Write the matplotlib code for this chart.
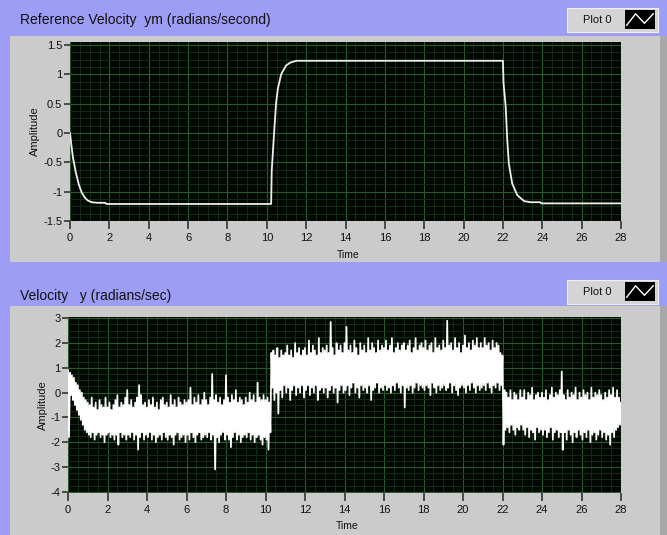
import matplotlib.pyplot as plt
import numpy as np
from matplotlib.patches import Rectangle

# reference velocity ym, breakpoints of the trace
ref_t = [0.0, 0.05, 0.15, 0.3, 0.45, 0.6, 0.75, 0.9, 1.1, 1.4, 1.8, 1.85,
         10.2, 10.22, 10.25, 10.39, 10.47, 10.56, 10.73, 10.98, 11.2, 11.5,
         22.0, 22.03, 22.14, 22.22, 22.3, 22.47, 22.73, 23.07, 23.4, 23.9, 23.95, 28.0]
ref_v = [0.0, -0.15, -0.42, -0.68, -0.88, -1.02, -1.10, -1.15, -1.18, -1.19, -1.19, -1.21,
         -1.21, -1.21, -0.65, 0.1, 0.5, 0.75, 1.0, 1.15, 1.2, 1.23,
         1.23, 0.85, 0.45, -0.12, -0.52, -0.86, -1.06, -1.16, -1.18, -1.18, -1.2, -1.2]

# measured velocity y, sampled every 0.1 s: upper and lower swing of each sample pair
vel_t = np.round(np.arange(281) * 0.1, 1)
vel_hi = [
    0.9, 0.8, 0.7, 0.6, 0.4, 0.3, 0.1, 0.0, -0.2, -0.3,
    -0.4, -0.5, -0.2, -0.6, -0.4, -0.7, -0.3, -0.5, -0.6, -0.2,
    -0.6, -0.4, -0.7, -0.5, -0.3, -0.1, -0.6, -0.4, -0.5, -0.2,
    0.1, -0.5, -0.3, -0.6, -0.4, -0.2, 0.3, -0.1, -0.5, -0.4,
    -0.6, -0.3, -0.5, -0.2, -0.6, -0.4, -0.7, -0.3, -0.2, -0.5,
    -0.4, -0.6, -0.1, -0.5, -0.3, -0.6, -0.2, -0.4, -0.5, -0.3,
    -0.4, -0.3, 0.2, -0.5, -0.2, -0.4, -0.1, -0.5, -0.3, 0.0,
    -0.3, -0.5, -0.2, 0.75, -0.3, -0.1, -0.4, -0.2, -0.5, -0.3,
    0.7, -0.2, -0.4, -0.1, -0.3, 0.1, -0.4, -0.2, -0.3, -0.5,
    -0.2, -0.4, 0.0, -0.3, -0.1, -0.4, 0.4, -0.2, -0.3, -0.1,
    -0.3, -0.2, -0.4, 1.6, 1.7, 1.5, 1.8, 1.4, 1.7, 1.5,
    1.6, 1.9, 1.5, 1.7, 1.4, 2.0, 1.6, 1.8, 1.5, 1.7,
    1.8, 1.5, 2.1, 1.6, 1.9, 1.7, 1.5, 2.2, 1.6, 1.8,
    1.7, 1.9, 1.6, 2.85, 1.8, 1.5, 2.0, 1.7, 1.9, 1.6,
    2.0, 2.65, 1.7, 1.9, 1.6, 2.1, 1.8, 1.5, 2.0, 1.7,
    1.9, 1.6, 2.2, 1.7, 2.0, 1.8, 1.6, 2.1, 1.7, 1.9,
    1.8, 2.1, 1.7, 1.9, 2.2, 1.6, 1.8, 2.0, 1.7, 1.9,
    2.0, 1.7, 1.9, 2.1, 1.6, 1.8, 2.2, 1.7, 1.9, 2.0,
    1.8, 2.1, 1.7, 1.9, 2.0, 1.6, 2.2, 1.8, 1.9, 1.7,
    2.1, 1.8, 2.9, 1.9, 2.0, 1.7, 2.2, 1.8, 2.0, 1.6,
    1.9, 2.3, 1.8, 2.0, 1.7, 2.1, 1.9, 2.2, 1.8, 2.0,
    1.8, 2.2, 1.9, 2.0, 1.7, 2.1, 1.8, 2.0, 1.9, 1.6,
    1.5, 0.1, 0.0, -0.2, 0.1, -0.3, 0.0, -0.1, -0.3, 0.1,
    -0.2, 0.1, -0.3, 0.0, -0.1, 0.2, -0.3, -0.1, 0.0, -0.2,
    0.0, -0.2, 0.1, -0.3, -0.1, 0.2, -0.2, 0.0, -0.1, 0.1,
    0.85, -0.1, -0.3, 0.1, -0.2, 0.0, -0.1, 0.2, -0.3, 0.0,
    -0.2, 0.1, -0.1, 0.0, -0.3, 0.2, -0.2, 0.0, -0.1, 0.1,
    -0.1, -0.3, 0.0, -0.2, 0.1, -0.1, 0.2, -0.2, 0.1, -0.2,
    -0.4,
]
vel_lo = [
    -1.8, -0.1, -0.3, -0.5, -0.7, -0.9, -1.1, -1.3, -1.5, -1.6,
    -1.7, -1.8, -1.6, -1.9, -1.7, -1.6, -1.8, -1.7, -2.0, -1.7,
    -1.6, -1.8, -1.7, -1.9, -1.7, -2.1, -1.6, -1.8, -1.7, -1.9,
    -1.7, -1.8, -1.6, -1.9, -1.7, -2.3, -1.8, -1.6, -1.9, -1.7,
    -1.8, -1.6, -1.9, -1.7, -2.0, -1.8, -1.7, -1.9, -1.6, -1.8,
    -1.9, -1.7, -1.8, -2.1, -1.7, -1.6, -1.9, -1.8, -1.7, -2.0,
    -1.7, -1.9, -1.6, -1.8, -2.0, -1.7, -1.6, -1.9, -1.8, -1.7,
    -1.8, -1.6, -1.9, -1.7, -3.1, -1.8, -2.0, -1.7, -1.6, -1.9,
    -1.7, -1.9, -2.2, -1.8, -1.6, -1.9, -1.7, -2.0, -1.8, -1.7,
    -1.8, -1.6, -1.9, -1.7, -2.0, -1.8, -1.7, -1.9, -2.1, -1.8,
    -1.9, -2.3, -1.6, 0.2, -0.3, 0.0, -0.85, 0.1, -0.2, 0.3,
    0.0, 0.2, -0.3, 0.1, 0.3, -0.1, 0.2, 0.0, 0.3, -0.2,
    0.1, 0.3, -0.1, 0.2, 0.0, 0.3, -0.3, 0.1, 0.2, 0.0,
    0.2, -0.2, 0.1, 0.3, 0.0, 0.2, -0.4, 0.1, 0.3, 0.0,
    0.1, 0.3, -0.1, 0.2, 0.4, 0.0, 0.2, -0.2, 0.3, 0.1,
    0.2, 0.0, 0.3, -0.3, 0.1, 0.2, 0.4, 0.0, 0.2, 0.1,
    0.3, 0.1, 0.2, 0.0, 0.3, 0.1, 0.4, 0.2, 0.0, 0.3,
    -0.6, 0.2, 0.1, 0.3, 0.0, 0.2, 0.4, 0.1, 0.3, 0.2,
    0.1, 0.3, 0.2, -0.1, 0.4, 0.2, 0.0, 0.3, 0.1, 0.2,
    0.3, 0.1, 0.2, 0.4, 0.0, 0.3, 0.1, -0.1, 0.2, 0.3,
    0.2, 0.0, 0.3, 0.1, 0.4, 0.2, 0.0, 0.3, 0.1, 0.2,
    0.3, 0.1, 0.4, 0.2, 0.0, 0.3, 0.2, 0.4, 0.1, 0.3,
    -2.1, -1.5, -1.4, -1.6, -1.3, -1.5, -1.7, -1.4, -1.5, -1.3,
    -1.5, -1.7, -1.4, -1.8, -1.5, -1.6, -1.9, -1.4, -1.6, -1.5,
    -1.7, -1.5, -1.8, -1.6, -1.4, -1.9, -1.6, -1.5, -1.8, -1.6,
    -2.3, -1.6, -1.9, -1.5, -1.7, -2.0, -1.6, -1.8, -1.5, -1.7,
    -1.9, -1.6, -1.8, -1.5, -2.0, -1.7, -1.6, -1.9, -1.7, -1.5,
    -1.8, -1.6, -1.9, -1.7, -2.1, -1.6, -1.8, -1.5, -1.4, -1.3,
    -1.3,
]

top_yticks = [-1.5, -1, -0.5, 0, 0.5, 1, 1.5]
top_ylabels = ['-1.5', '-1', '-0.5', '0', '0.5', '1', '1.5']
bot_yticks = [-4, -3, -2, -1, 0, 1, 2, 3]
time_ticks = list(range(0, 29, 2))

W, H = 667, 535
frame_bg = '#9d9df5'
panel_bg = '#cbcbcb'
plot_bg = '#010801'
major_grid = '#29592f'
minor_grid = '#132c17'


def box(x, y, w, h):
    # pixel box (top-left origin) -> figure fraction rect
    return [x / W, 1 - (y + h) / H, w / W, h / H]


def panel(x, y, w, h, color, z=-10, **kw):
    r = Rectangle((x / W, 1 - (y + h) / H), w / W, h / H, transform=fig.transFigure,
                  facecolor=color, zorder=z, **kw)
    fig.patches.append(r)


def style_chart(ax, yticks, ylabels, yminor):
    ax.set_facecolor(plot_bg)
    ax.set_xlim(0, 28)
    ax.set_xticks(time_ticks)
    ax.set_xticks(np.arange(0, 28.01, 0.5), minor=True)
    ax.set_yticks(yticks)
    ax.set_yticklabels(ylabels)
    ax.set_yticks(np.arange(yticks[0], yticks[-1] + 1e-6, yminor), minor=True)
    ax.grid(which='major', color=major_grid, lw=0.8)
    ax.grid(which='minor', color=minor_grid, lw=0.7)
    ax.set_axisbelow(True)
    for s in ax.spines.values():
        s.set_visible(False)
    ax.tick_params(which='major', direction='out', length=4, width=1.2, color='#333333',
                   labelsize=8, pad=1.5, labelcolor='#111111')
    ax.tick_params(axis='x', which='major', length=6, pad=2.5)
    ax.tick_params(which='minor', length=0)
    ax.set_ylabel('Amplitude', fontsize=8, labelpad=2, color='#111111')
    ax.set_xlabel('Time', fontsize=7.5, labelpad=1, color='#111111')
    ax.xaxis.set_label_coords(0.505, -0.16)


def legend_box(y):
    panel(567, y, 91, 24, '#d4d4d4', z=1, edgecolor='#f0f0f0', lw=0.8)
    fig.text(597 / W, 1 - (y + 12) / H, 'Plot 0', fontsize=8, ha='center', va='center',
             color='#111111', zorder=2)
    sw = fig.add_axes(box(625, y + 2, 30, 19))
    sw.set_zorder(3)
    sw.set_facecolor('black')
    sw.plot([0, 1, 2, 3], [0.2, 0.8, 0.3, 0.8], color='white', lw=1)
    sw.set_xlim(-0.2, 3.2)
    sw.set_ylim(0, 1)
    sw.set_xticks([])
    sw.set_yticks([])
    for s in sw.spines.values():
        s.set_visible(False)


plt.rcParams['font.family'] = ['Liberation Sans', 'DejaVu Sans']
fig = plt.figure(figsize=(W / 100, H / 100), dpi=100, facecolor=frame_bg)

# gray panels behind each chart
for y0, h in [(36, 226), (306, 229)]:
    panel(10, y0, 652, h, panel_bg)
    panel(660, y0, 7, h, '#a8a8a8')

fig.text(20 / W, 1 - 20 / H, 'Reference Velocity  ym (radians/second)', fontsize=10,
         va='center', color='#111111')
fig.text(20 / W, 1 - 296 / H, 'Velocity   y (radians/sec)', fontsize=10,
         va='center', color='#111111')

# reference velocity
ax1 = fig.add_axes(box(70, 42, 551, 179))
style_chart(ax1, top_yticks, top_ylabels, 0.125)
ax1.set_ylim(-1.5, 1.55)
ax1.plot(ref_t, ref_v, color='#eeeeee', lw=1.3)

# measured velocity: each sample pair drawn as an up/down swing
trace_t = np.column_stack([vel_t, vel_t + 0.05]).ravel()
trace_v = np.column_stack([vel_hi, vel_lo]).ravel()
ax2 = fig.add_axes(box(68, 317, 553, 176))
style_chart(ax2, bot_yticks, [str(v) for v in bot_yticks], 0.25)
ax2.set_ylim(-4.05, 3.05)
ax2.plot(trace_t, trace_v, color='white', lw=1.25)

legend_box(8)
legend_box(280)

fig.savefig('out.png', dpi=100, facecolor=frame_bg)
